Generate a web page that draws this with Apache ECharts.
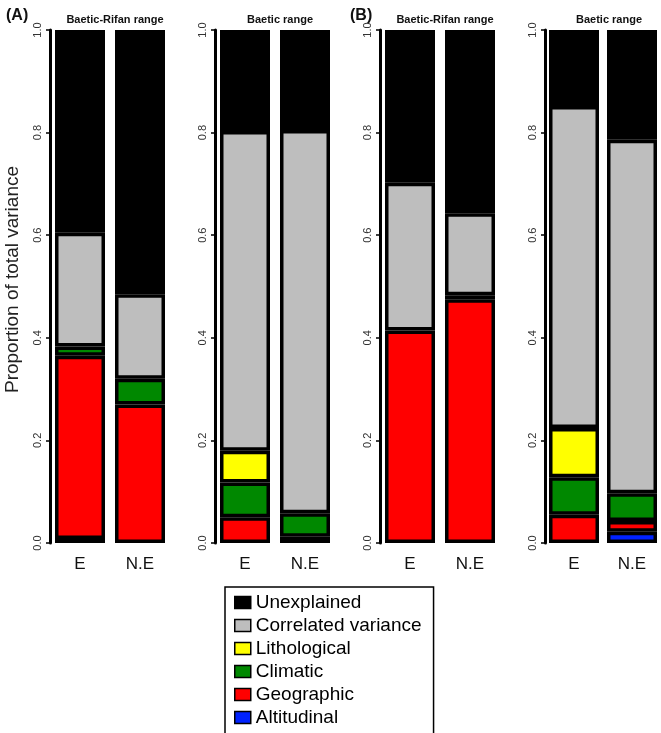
<!DOCTYPE html>
<html>
<head>
<meta charset="utf-8">
<script src="https://cdn.jsdelivr.net/npm/echarts@6/dist/echarts.min.js"></script>
<style>html,body{margin:0;padding:0;background:#fff}#c{width:661px;height:733px}</style>
</head>
<body>
<div id="c"></div>
<script>
// Panels: [A Baetic-Rifan, A Baetic, B Baetic-Rifan, B Baetic]; each entry = [E, N.E]
const categories = ['E', 'N.E'];
const panelTitles = ['Baetic-Rifan range', 'Baetic range', 'Baetic-Rifan range', 'Baetic range'];
const yTicks = [0, 0.2, 0.4, 0.6, 0.8, 1.0];
const altitudinal = [[0.008, 0], [0, 0], [0, 0], [0, 0.022]];
const geographic  = [[0.357, 0.27], [0.05, 0.012], [0.414, 0.475], [0.055, 0.021]];
const climatic    = [[0.018, 0.05], [0.068, 0.046], [0, 0.008], [0.073, 0.054]];
const lithological= [[0, 0], [0.062, 0], [0, 0], [0.096, 0]];
const correlated  = [[0.222, 0.165], [0.623, 0.747], [0.288, 0.16], [0.628, 0.689]];
const unexplained = [[0.395, 0.515], [0.197, 0.195], [0.298, 0.357], [0.148, 0.214]];

const comps = [
  {name: 'Altitudinal', data: altitudinal, color: '#0022ff'},
  {name: 'Geographic', data: geographic, color: '#ff0000'},
  {name: 'Climatic', data: climatic, color: '#008800'},
  {name: 'Lithological', data: lithological, color: '#ffff00'},
  {name: 'Correlated variance', data: correlated, color: '#bebebe'},
  {name: 'Unexplained', data: unexplained, color: '#000000'}
];
const legendOrder = ['Unexplained', 'Correlated variance', 'Lithological', 'Climatic', 'Geographic', 'Altitudinal'];

const FONT = '"Liberation Sans", Arial, Helvetica, sans-serif';
const gridLefts = [50, 215, 380, 545];
const grids = gridLefts.map(l => ({left: l, top: 30, height: 513, width: 120}));
const xAxes = grids.map((g, i) => ({
  type: 'category', gridIndex: i, data: categories,
  axisLine: {show: false}, axisTick: {show: false},
  axisLabel: {fontSize: 17, color: '#111', margin: 13, fontFamily: FONT}
}));
const yAxes = grids.map((g, i) => ({
  type: 'value', gridIndex: i, min: yTicks[0], max: yTicks[yTicks.length - 1], interval: 0.2,
  splitLine: {show: false},
  axisLine: {show: true, lineStyle: {color: '#000', width: 3}},
  axisTick: {show: true, length: 4, lineStyle: {color: '#000', width: 1.5}},
  axisLabel: {rotate: 90, fontSize: 11, color: '#333', margin: 7, fontFamily: FONT,
    formatter: v => v.toFixed(1)},
  name: i === 0 ? 'Proportion of total variance' : '',
  nameLocation: 'middle', nameGap: 28, nameRotate: 90,
  nameTextStyle: {fontSize: 19, color: '#222', fontFamily: FONT, padding: [0, 0, 0, 14]}
}));
const series = [];
grids.forEach((g, gi) => {
  comps.forEach(c => {
    series.push({
      type: 'bar', name: c.name, xAxisIndex: gi, yAxisIndex: gi, stack: 's' + gi,
      barWidth: 50,
      data: c.data[gi].map(v => v === 0 ? '-' : v),
      itemStyle: {color: c.color, borderColor: '#000', borderWidth: 3.5},
      emphasis: {disabled: true}, animation: false
    });
  });
});
const centers = [110, 275, 440, 604];
const titles = [
  {text: '(A)', left: 1, top: 3, textStyle: {fontSize: 16, fontWeight: 'bold', color: '#111', fontFamily: FONT}},
  {text: '(B)', left: 345, top: 3, textStyle: {fontSize: 16, fontWeight: 'bold', color: '#111', fontFamily: FONT}}
].concat(panelTitles.map((t, i) => ({
  text: t, left: centers[i], top: 9, textAlign: 'center',
  textStyle: {fontSize: 11, fontWeight: 'bold', color: '#111', fontFamily: FONT}
})));

const chart = echarts.init(document.getElementById('c'), null, {renderer: 'canvas'});
chart.setOption({
  animation: false,
  backgroundColor: '#fff',
  title: titles,
  grid: grids,
  xAxis: xAxes,
  yAxis: yAxes,
  legend: {
    data: legendOrder, orient: 'vertical', left: 225, top: 587, height: 400,
    backgroundColor: '#fff', borderColor: '#000', borderWidth: 1.5, borderRadius: 0,
    padding: [6, 12, 8, 9], itemGap: 4, itemWidth: 16, itemHeight: 12, icon: 'rect',
    itemStyle: {borderColor: '#000', borderWidth: 1.5},
    textStyle: {fontSize: 19, color: '#000', fontFamily: FONT},
    selectedMode: false
  },
  series: series
});
</script>
</body>
</html>
